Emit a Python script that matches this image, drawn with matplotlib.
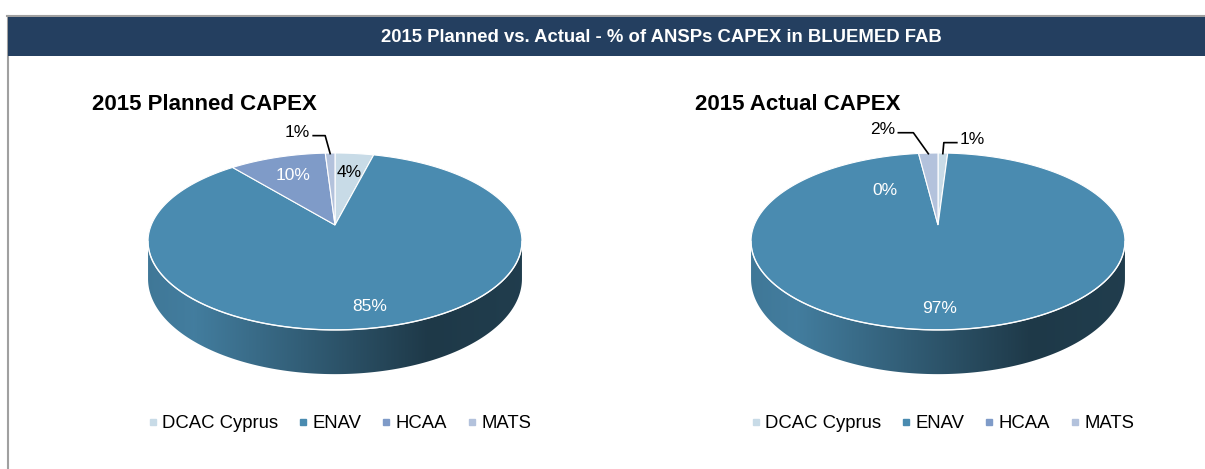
import numpy as np
import matplotlib
matplotlib.use("Agg")
import matplotlib.pyplot as plt
from matplotlib.patches import Polygon, Rectangle
from matplotlib.lines import Line2D
from matplotlib.legend import Legend
from matplotlib.colors import to_rgb

plt.rcParams['font.family'] = ['Liberation Sans', 'DejaVu Sans']

# data
categories = ["DCAC Cyprus", "ENAV", "HCAA", "MATS"]
planned = [4, 85, 10, 1]
actual = [1, 97, 0, 2]
colors = ["#c8dbe7", "#4a8bb0", "#7f9bc8", "#b3c2dc"]
main_title = "2015 Planned vs. Actual - % of ANSPs CAPEX in BLUEMED FAB"
pie_titles = ["2015 Planned CAPEX", "2015 Actual CAPEX"]

W, H = 1205, 469
fig = plt.figure(figsize=(W / 100, H / 100), dpi=100)
ax = fig.add_axes([0, 0, 1, 1])
ax.set_xlim(0, W)
ax.set_ylim(H, 0)
ax.axis('off')

# frame + title bar
ax.plot([7.5, 7.5], [16, H], color="#a0a0a0", lw=1.5, zorder=1)
ax.plot([7, W], [16, 16], color="#a0a0a0", lw=1.5, zorder=1)
ax.add_patch(Rectangle((8, 17), W - 8, 39, facecolor="#243f60", edgecolor="none", zorder=1))
ax.text(661, 37, main_title, color="white", fontsize=13.3, fontweight="bold",
        ha="center", va="center", zorder=2)

# 3d pie geometry (perspective tilted disc)
A, B, K, DEPTH = 183.7, 85.4, 0.186, 36


def proj(cx, cy, theta, r=1.0):
    u = r * np.sin(theta)
    v = -r * np.cos(theta)
    w = 1 / (1 - K * v)
    return cx + A * u * w, cy + B * v * w, w


def shade(t):
    return np.interp(t, [0, 0.12, 0.75, 1], [0.86, 0.9, 0.41, 0.44])


# leader line settings for small outside labels: (dx elbow, dy elbow, dx end)
leaders = {
    (0, 3): (-5, -18, -12),
    (1, 3): (-15, -21, -15),
    (1, 0): (1, -11, 13),
}

th_l = np.arccos(-K)
th_r = 2 * np.pi - th_l


def draw_pie(idx, cx, cy, values):
    bounds = np.cumsum([0] + values) / 100 * 2 * np.pi
    # sides
    for i, v in enumerate(values):
        t1, t2 = max(bounds[i], th_l), min(bounds[i + 1], th_r)
        if t2 <= t1:
            continue
        tt = np.linspace(t1, t2, 200)
        x, y, w = proj(cx, cy, tt)
        pts = np.vstack([np.c_[x, y], np.c_[x, y + DEPTH * w][::-1]])
        poly = Polygon(pts, closed=True, facecolor="none", edgecolor="none")
        ax.add_patch(poly)
        xs = np.linspace(0, 1, 300)
        base = np.array(to_rgb(colors[i]))
        img = (shade(xs)[:, None] * base[None, :])[None, :, :]
        im = ax.imshow(img, extent=(cx - A * 1.02, cx + A * 1.02, cy + 200, cy - 50),
                       aspect="auto", zorder=2, interpolation="bilinear")
        im.set_clip_path(poly)
    # top face
    for i, v in enumerate(values):
        if v <= 0:
            continue
        tt = np.linspace(bounds[i], bounds[i + 1], max(int(v * 4), 4))
        x, y, _ = proj(cx, cy, tt)
        pts = np.vstack([[cx, cy], np.c_[x, y]])
        ax.add_patch(Polygon(pts, closed=True, facecolor=colors[i], edgecolor="white",
                             lw=0.8, zorder=3))
    # rim highlight
    tt = np.linspace(th_l, th_r, 200)
    x, y, _ = proj(cx, cy, tt)
    ax.plot(x, y, color="white", lw=1.0, alpha=0.9, zorder=4)
    # labels
    for i, v in enumerate(values):
        mid = (bounds[i] + bounds[i + 1]) / 2
        txt = f"{v}%"
        if (idx, i) in leaders:
            dx1, dy1, dx2 = leaders[(idx, i)]
            ex, ey, _ = proj(cx, cy, mid, 0.99)
            lx = [ex, ex + dx1, ex + dx1 + dx2]
            ly = [ey, ey + dy1, ey + dy1]
            ax.plot(lx, ly, color="black", lw=1.2, zorder=5)
            ha = "right" if dx2 < 0 else "left"
            ax.text(lx[-1] + (3 if dx2 > 0 else -3), ly[-1] - 3, txt, fontsize=12.5,
                    ha=ha, va="center", color="black", zorder=6)
            continue
        f = 0.7 + 0.13 * max(0.0, -np.cos(mid))
        x, y, _ = proj(cx, cy, mid, f)
        if v == 0:
            x, y = x - 39, y + 18
        lum = np.mean(to_rgb(colors[i]))
        ax.text(x - (4 if v > 50 else 0), y, txt, fontsize=12.5, ha="center", va="center",
                color="black" if lum > 0.8 else "white", zorder=6)
    # title
    ax.text(cx - 243, 104, pie_titles[idx], fontsize=16, fontweight="bold",
            ha="left", va="center", zorder=6)
    # legend
    handles = [Line2D([], [], marker="s", ls="none", markersize=5,
                      markerfacecolor=c, markeredgecolor=c) for c in colors]
    leg = Legend(ax, handles, categories, loc="center", bbox_to_anchor=(cx + 4, 424),
                 bbox_transform=ax.transData, ncol=4, frameon=False, fontsize=13.3,
                 handlelength=0.6, handletextpad=0.2, columnspacing=1.05)
    ax.add_artist(leg)


draw_pie(0, 335, 225, planned)
draw_pie(1, 938, 225, actual)

fig.savefig("out.png", dpi=100)
